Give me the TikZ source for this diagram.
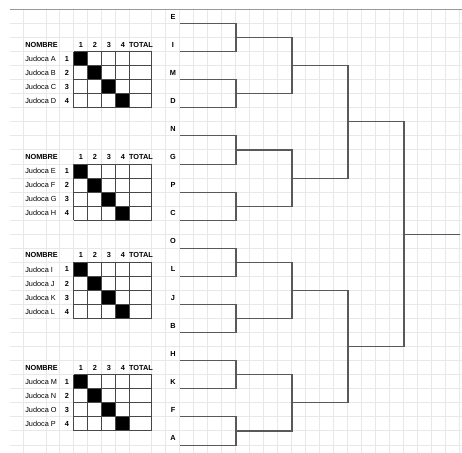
\documentclass[tikz,border=0pt]{standalone}
\usepackage{fontspec}
\setmainfont{Liberation Sans}
\begin{document}
\begin{tikzpicture}[x=0.75pt,y=-0.75pt,
  gridline/.style={draw=black!9,line width=0.75pt},
  topline/.style={draw=black!40,line width=0.75pt},
  tabline/.style={draw=black!72,line width=0.75pt},
  bracket/.style={draw=black!65,line width=0.8pt,line join=miter},
  hdr/.style={font=\fontsize{5.5}{6}\selectfont\bfseries,inner sep=0pt},
  nm/.style={font=\fontsize{5.5}{6}\selectfont,inner sep=0pt,anchor=west},
]
\useasboundingbox (0,0) rectangle (462,453);
\fill[white] (0,0) rectangle (462,453);
% sheet grid
\foreach \k in {1,...,31} \draw[gridline] (10,{9.5+14.05*\k}) -- (462,{9.5+14.05*\k});
\foreach \x in {24,47,60,74,88,102,116,130,152,166,180,...,460} \draw[gridline] (\x,9.5) -- (\x,453);
\draw[topline] (10,9.5) -- (462,9.5);
% tables
\foreach \h/\nms [count=\t] in {2/{A,B,C,D},10/{E,F,G,H},17/{I,J,K,L},25/{M,N,O,P}} {
  \pgfmathsetmacro\yh{9.5+14.05*(\h+0.5)}
  \node[hdr,anchor=west] (nombre\t) at (25,\yh) {NOMBRE};
  \foreach \c/\cx in {1/81,2/95,3/109,4/123} \node[hdr] (col\t-\c) at (\cx,\yh) {\c};
  \node[hdr] (total\t) at (141,\yh) {TOTAL};
  \foreach \n [count=\r] in \nms {
    \pgfmathsetmacro\yr{9.5+14.05*(\h+\r+0.5)}
    \node[nm] (jud\n) at (25,\yr) {Judoca \n};
    \node[hdr] (num\t-\r) at (67,\yr) {\r};
    \pgfmathsetmacro\xa{74+14*(\r-1)}
    \fill[black] (\xa,{9.5+14.05*(\h+\r)}) rectangle ({\xa+14},{9.5+14.05*(\h+\r+1)});
  }
  \foreach \r in {1,...,5} \draw[tabline] (74,{9.5+14.05*(\h+\r)}) -- (152,{9.5+14.05*(\h+\r)});
  \foreach \x in {74,88,102,116,130,152} \draw[tabline] (\x,{9.5+14.05*(\h+1)}) -- (\x,{9.5+14.05*(\h+5)});
}
% bracket
\foreach \L [count=\i from 0] in {E,I,M,D,N,G,P,C,O,L,J,B,H,K,F,A} {
  \node[hdr] (p\i) at (173,{9.5+14.05*(2*\i+0.5)}) {\L};
  \coordinate (s\i) at (180,{9.5+14.05*(2*\i+1)});
  \coordinate (e\i) at (236,{9.5+14.05*(2*\i+1)});
}
\foreach \m in {0,...,7} {
  \pgfmathtruncatemacro\a{2*\m}\pgfmathtruncatemacro\b{2*\m+1}
  \coordinate (u\m) at (236,{9.5+14.05*(4*\m+2)});
  \coordinate (v\m) at (292,{9.5+14.05*(4*\m+2)});
  \draw[bracket] (s\a) -- (e\a) -- (e\b) -- (s\b);
}
\foreach \j in {0,...,3} {
  \pgfmathtruncatemacro\a{2*\j}\pgfmathtruncatemacro\b{2*\j+1}
  \coordinate (wa\j) at (292,{9.5+14.05*(8*\j+4)});
  \coordinate (wb\j) at (348,{9.5+14.05*(8*\j+4)});
  \draw[bracket] (u\a) -- (v\a) -- (v\b) -- (u\b);
}
\foreach \n in {0,1} {
  \pgfmathtruncatemacro\a{2*\n}\pgfmathtruncatemacro\b{2*\n+1}
  \coordinate (ya\n) at (348,{9.5+14.05*(16*\n+8)});
  \coordinate (yb\n) at (404,{9.5+14.05*(16*\n+8)});
  \draw[bracket] (wa\a) -- (wb\a) -- (wb\b) -- (wa\b);
}
\coordinate (fin) at (404,{9.5+14.05*16});
\coordinate (out) at (460,{9.5+14.05*16});
\draw[bracket] (ya0) -- (yb0) -- (yb1) -- (ya1);
\draw[bracket] (fin) -- (out);
\end{tikzpicture}
\end{document}
